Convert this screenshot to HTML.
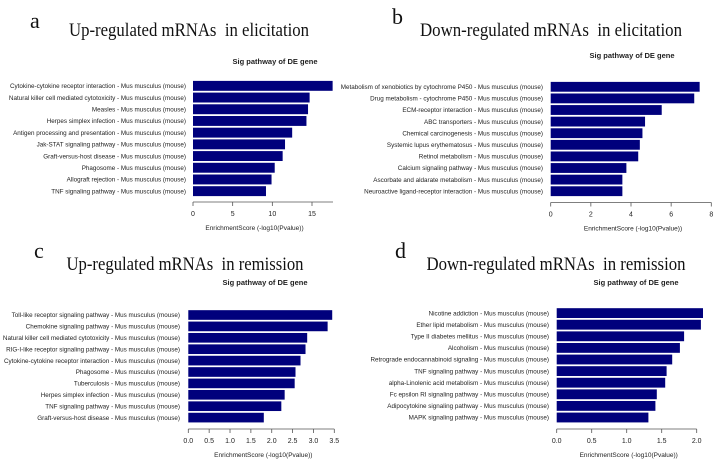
<!DOCTYPE html>
<html><head><meta charset="utf-8"><style>
html,body{margin:0;padding:0;background:#fff;}
svg{display:block;}
.t{font-family:"Liberation Serif",serif;fill:#111;white-space:pre;}
.s{font-family:"Liberation Sans",sans-serif;fill:#222;}
</style></head><body>
<svg id="fig" width="723" height="475" viewBox="0 0 723 475"></svg>
<script>
const catsA=["Cytokine-cytokine receptor interaction - Mus musculus (mouse)","Natural killer cell mediated cytotoxicity - Mus musculus (mouse)","Measles - Mus musculus (mouse)","Herpes simplex infection - Mus musculus (mouse)","Antigen processing and presentation - Mus musculus (mouse)","Jak-STAT signaling pathway - Mus musculus (mouse)","Graft-versus-host disease - Mus musculus (mouse)","Phagosome - Mus musculus (mouse)","Allograft rejection - Mus musculus (mouse)","TNF signaling pathway - Mus musculus (mouse)"];
const valsA=[17.6,14.7,14.5,14.3,12.5,11.6,11.3,10.3,9.9,9.2];
const ticksA=[0,5,10,15];
const catsB=["Metabolism of xenobiotics by cytochrome P450 - Mus musculus (mouse)","Drug metabolism - cytochrome P450 - Mus musculus (mouse)","ECM-receptor interaction - Mus musculus (mouse)","ABC transporters - Mus musculus (mouse)","Chemical carcinogenesis - Mus musculus (mouse)","Systemic lupus erythematosus - Mus musculus (mouse)","Retinol metabolism - Mus musculus (mouse)","Calcium signaling pathway - Mus musculus (mouse)","Ascorbate and aldarate metabolism - Mus musculus (mouse)","Neuroactive ligand-receptor interaction - Mus musculus (mouse)"];
const valsB=[7.42,7.15,5.53,4.7,4.57,4.44,4.36,3.77,3.57,3.57];
const ticksB=[0,2,4,6,8];
const catsC=["Toll-like receptor signaling pathway - Mus musculus (mouse)","Chemokine signaling pathway - Mus musculus (mouse)","Natural killer cell mediated cytotoxicity - Mus musculus (mouse)","RIG-I-like receptor signaling pathway - Mus musculus (mouse)","Cytokine-cytokine receptor interaction - Mus musculus (mouse)","Phagosome - Mus musculus (mouse)","Tuberculosis - Mus musculus (mouse)","Herpes simplex infection - Mus musculus (mouse)","TNF signaling pathway - Mus musculus (mouse)","Graft-versus-host disease - Mus musculus (mouse)"];
const valsC=[3.45,3.34,2.85,2.81,2.69,2.57,2.55,2.31,2.23,1.81];
const ticksC=["0.0","0.5","1.0","1.5","2.0","2.5","3.0","3.5"];
const catsD=["Nicotine addiction - Mus musculus (mouse)","Ether lipid metabolism - Mus musculus (mouse)","Type II diabetes mellitus - Mus musculus (mouse)","Alcoholism - Mus musculus (mouse)","Retrograde endocannabinoid signaling - Mus musculus (mouse)","TNF signaling pathway - Mus musculus (mouse)","alpha-Linolenic acid metabolism - Mus musculus (mouse)","Fc epsilon RI signaling pathway - Mus musculus (mouse)","Adipocytokine signaling pathway - Mus musculus (mouse)","MAPK signaling pathway - Mus musculus (mouse)"];
const valsD=[2.09,2.06,1.82,1.76,1.65,1.57,1.55,1.43,1.41,1.31];
const ticksD=["0.0","0.5","1.0","1.5","2.0"];

const NS="http://www.w3.org/2000/svg";
const svg=document.getElementById("fig");
function mk(tag,attrs,parent,txt){const e=document.createElementNS(NS,tag);for(const k in attrs)e.setAttribute(k,attrs[k]);if(txt!==undefined)e.textContent=txt;(parent||svg).appendChild(e);return e;}

const panels=[
 {id:"a",letter:"a",lx:30,ly:28,title:"Up-regulated mRNAs  in elicitation",tx:189,ty:36,tw:240,sx:275,sy:64,x0:193,x1:312,tmax:15,top:80,bot:197,ay:202,labR:186,cats:catsA,vals:valsA,ticks:ticksA,axEnd:333},
 {id:"b",letter:"b",lx:392,ly:24,title:"Down-regulated mRNAs  in elicitation",tx:551,ty:36,tw:262,sx:632,sy:58,x0:550.7,x1:711.3,tmax:8,top:81,bot:197,ay:202.5,labR:543,cats:catsB,vals:valsB,ticks:ticksB,axEnd:711.3},
 {id:"c",letter:"c",lx:34,ly:258,title:"Up-regulated mRNAs  in remission",tx:185,ty:270,tw:237,sx:265,sy:285,x0:188.3,x1:334.3,tmax:3.5,top:309.3,bot:423.3,ay:429,labR:180,cats:catsC,vals:valsC,ticks:ticksC,axEnd:334.3},
 {id:"d",letter:"d",lx:395,ly:258,title:"Down-regulated mRNAs  in remission",tx:556,ty:270,tw:259,sx:636,sy:285,x0:556.7,x1:696.7,tmax:2.0,top:307.3,bot:423.3,ay:429,labR:549,cats:catsD,vals:valsD,ticks:ticksD,axEnd:696.7}
];

panels.forEach(p=>{
 const g=mk("g",{});
 
 
 const L=mk("text",{x:p.lx,y:p.ly,"font-size":22,class:"t"},g,p.letter);
 
 
 const T=mk("text",{x:p.tx,y:p.ty,"font-size":19,class:"t","text-anchor":"middle",textLength:p.tw,lengthAdjust:"spacingAndGlyphs","xml:space":"preserve"},g,p.title);
 
 
 const S=mk("text",{x:p.sx,y:p.sy,"font-size":7.5,"font-weight":"bold",class:"s","text-anchor":"middle"},g,"Sig pathway of DE gene");
 
 
 const xs=v=>p.x0+(p.x1-p.x0)*v/p.tmax;
 const n=p.vals.length, pitch=(p.bot-p.top)/n, bh=pitch/1.18;
 p.vals.forEach((v,i)=>{
  const y=p.top+i*pitch+(pitch-bh)/2;
  const r=mk("rect",{x:xs(0),y:y,width:xs(v)-xs(0),height:bh,fill:"#00007c"},g);
  
  
  const t=mk("text",{x:p.labR,y:y+bh/2+2.2,"font-size":6.3,class:"s","text-anchor":"end"},g,p.cats[i]);
  
  
 });
 const ax=mk("line",{x1:xs(0),x2:p.axEnd,y1:p.ay,y2:p.ay,stroke:"#555","stroke-width":0.8},g);
 
 
 p.ticks.forEach(tk=>{
  const x=xs(parseFloat(tk));
  mk("line",{x1:x,x2:x,y1:p.ay,y2:p.ay+4,stroke:"#555","stroke-width":0.8},g);
  const tl=mk("text",{x:x,y:p.ay+14,"font-size":7,class:"s","text-anchor":"middle"},g,String(tk));
  
  
 });
 const xl=mk("text",{x:(xs(0)+p.x1)/2+2,y:p.ay+28,"font-size":6.5,class:"s","text-anchor":"middle"},g,"EnrichmentScore (-log10(Pvalue))");
 
 
});
</script>
</body></html>
